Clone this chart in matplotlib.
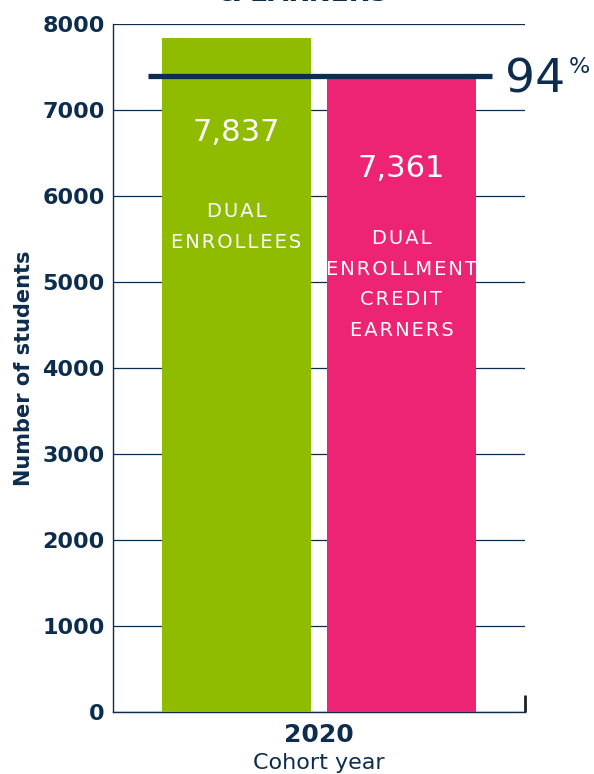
import matplotlib.pyplot as plt

# values
cohort = ["2020"]
series_names = ["DUAL\nENROLLEES", "DUAL\nENROLLMENT\nCREDIT\nEARNERS"]
series_values = [7837, 7361]
series_colors = ["#8fbb00", "#ed2373"]
pct_earned = 94
pct_line_level = 7395
yticks = [0, 1000, 2000, 3000, 4000, 5000, 6000, 7000, 8000]

navy = "#0c2d4e"
plt.rcParams["font.family"] = ["DejaVu Sans"]


def spaced(s):
    # the labels in the bars are letter-spaced, fake it with hair spaces
    return "\n".join("\u200a".join(line) for line in s.split("\n"))


fig = plt.figure(figsize=(5.94, 7.74), dpi=100)
ax = fig.add_axes([113 / 594, 62 / 774, 412 / 594, 688 / 774])

offsets = [-0.2, 0.2]
width = 0.362
for off, val, col in zip(offsets, series_values, series_colors):
    ax.bar(off, val, width=width, color=col, zorder=3)

# value + name labels inside bars
ax.text(offsets[0], 6744, f"{series_values[0]:,}", ha="center", va="center",
        color="white", fontsize=22, zorder=5)
ax.text(offsets[1], 6314, f"{series_values[1]:,}", ha="center", va="center",
        color="white", fontsize=22, zorder=5)
ax.text(offsets[0], 5640, spaced(series_names[0]), ha="center", va="center",
        color="white", fontsize=14, linespacing=1.76, zorder=5)
ax.text(offsets[1], 4971, spaced(series_names[1]), ha="center", va="center",
        color="white", fontsize=14, linespacing=1.76, zorder=5)

# completion line and percentage
ax.axhline(pct_line_level, xmin=0.085, xmax=0.92, color=navy, lw=3.8,
           zorder=6, clip_on=False, solid_capstyle="butt")
ax.text(0.951, 7209, str(pct_earned), transform=ax.get_yaxis_transform(),
        ha="left", va="baseline", color=navy, fontsize=34, fontweight="medium",
        clip_on=False)
ax.text(1.107, 7430, "%", transform=ax.get_yaxis_transform(),
        ha="left", va="baseline", color=navy, fontsize=16, clip_on=False)

ax.set_xlim(-0.5, 0.5)
ax.set_ylim(0, 8000)
ax.set_yticks(yticks)
ax.set_xticks([0])
ax.set_xticklabels(cohort, fontsize=18, fontweight="bold", color=navy)
ax.set_xticks([0.5], minor=True)
ax.tick_params(axis="x", which="major", length=0, pad=8)
ax.tick_params(axis="x", which="minor", direction="in", length=12, width=2,
               color="#231f20")
ax.tick_params(axis="y", length=0, pad=6, labelsize=16, labelcolor=navy)
for lbl in ax.get_yticklabels():
    lbl.set_fontweight("bold")

ax.grid(axis="y", color=navy, lw=0.9, zorder=1)
ax.set_axisbelow(True)
for side in ["top", "right"]:
    ax.spines[side].set_visible(False)
ax.spines["left"].set_color(navy)
ax.spines["bottom"].set_color(navy)
ax.spines["left"].set_linewidth(1.0)
ax.spines["bottom"].set_linewidth(1.0)

ax.set_ylabel("Number of students", fontsize=15, fontweight="bold",
              color=navy, labelpad=6)
ax.set_xlabel("Cohort year", fontsize=16, color=navy, labelpad=4)

# title, mostly cut off at the top edge of the picture (as in the reference)
fig.text(0.51, 0.9985, "DUAL ENROLLEES\n& EARNERS", ha="center", va="baseline",
         fontsize=19, fontweight="bold", color=navy)

fig.savefig("out.png", dpi=100)
